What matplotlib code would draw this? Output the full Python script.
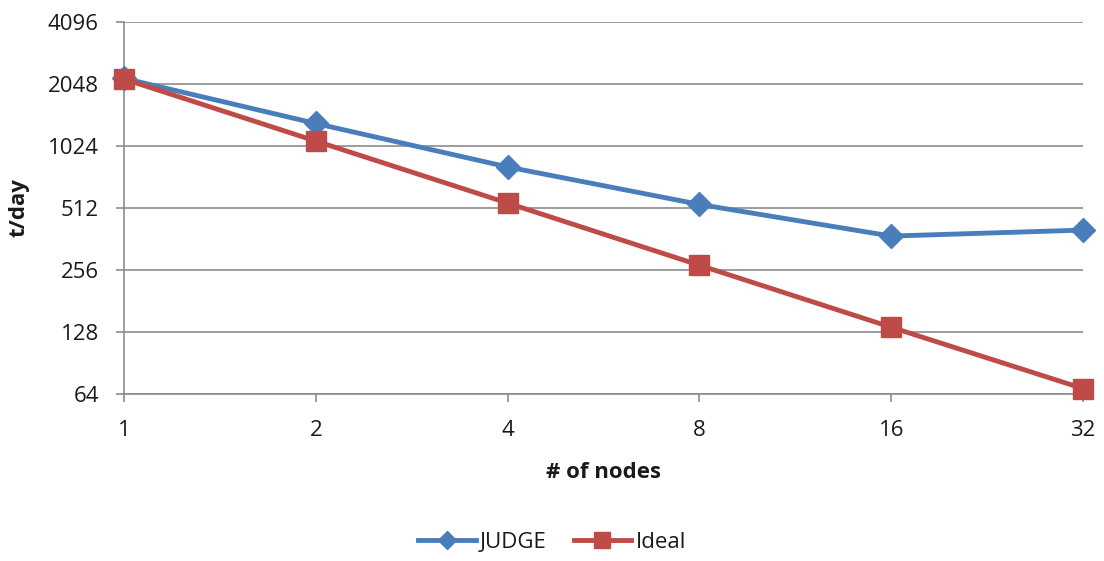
import matplotlib
matplotlib.use("Agg")
import matplotlib.pyplot as plt
from matplotlib.ticker import FixedLocator, FixedFormatter, NullLocator

nodes = [1, 2, 4, 8, 16, 32]
judge = [2180, 1317, 810, 533, 374, 400]
ideal = [2165, 1082, 541, 270, 135, 68]
yticks = [64, 128, 256, 512, 1024, 2048, 4096]

plt.rcParams['font.family'] = ['Open Sans', 'DejaVu Sans']

fig = plt.figure(figsize=(11.04, 5.61), dpi=100)
ax = fig.add_axes([0.1123, 0.2977, 0.981 - 0.1123, 0.9608 - 0.2977])

blue = '#4A7EBB'
red = '#BE4B48'
grid = '#8C8C8C'

ax.plot(nodes, judge, color=blue, lw=3.5, marker='D', ms=12, mfc=blue, mec=blue, label='JUDGE',
        zorder=3, clip_on=False)
ax.plot(nodes, ideal, color=red, lw=3.5, marker='s', ms=14.5, mfc=red, mec=red, label='Ideal',
        zorder=4, clip_on=False)

ax.set_xscale('log', base=2)
ax.set_yscale('log', base=2)
ax.set_xlim(1, 32)
ax.set_ylim(64, 4096)
ax.xaxis.set_major_locator(FixedLocator(nodes))
ax.xaxis.set_major_formatter(FixedFormatter([str(n) for n in nodes]))
ax.xaxis.set_minor_locator(NullLocator())
ax.yaxis.set_major_locator(FixedLocator(yticks))
ax.yaxis.set_major_formatter(FixedFormatter([str(t) for t in yticks]))
ax.yaxis.set_minor_locator(NullLocator())

ax.grid(axis='y', color=grid, lw=1.2)
ax.set_axisbelow(True)
for s in ['top', 'right']:
    ax.spines[s].set_visible(False)
for s in ['left', 'bottom']:
    ax.spines[s].set_color(grid)
    ax.spines[s].set_linewidth(1.2)
ax.tick_params(axis='both', colors=grid, length=6, width=1.2, labelcolor='#1a1a1a', labelsize=16)
ax.tick_params(axis='x', pad=13)
ax.tick_params(axis='y', pad=12)

ax.set_xlabel('# of nodes', fontsize=16, fontweight='bold', labelpad=15, color='#1a1a1a')
ax.set_ylabel('t/day', fontsize=16, fontweight='bold', labelpad=13, color='#1a1a1a')

leg = fig.legend(loc='center', bbox_to_anchor=(0.5, 0.033), ncol=2, frameon=False,
                 fontsize=16, handlelength=2.6, columnspacing=1.2, handletextpad=0.2,
                 markerscale=0.8)
for t in leg.get_texts():
    t.set_color('#1a1a1a')

fig.savefig('out.png', dpi=100)
